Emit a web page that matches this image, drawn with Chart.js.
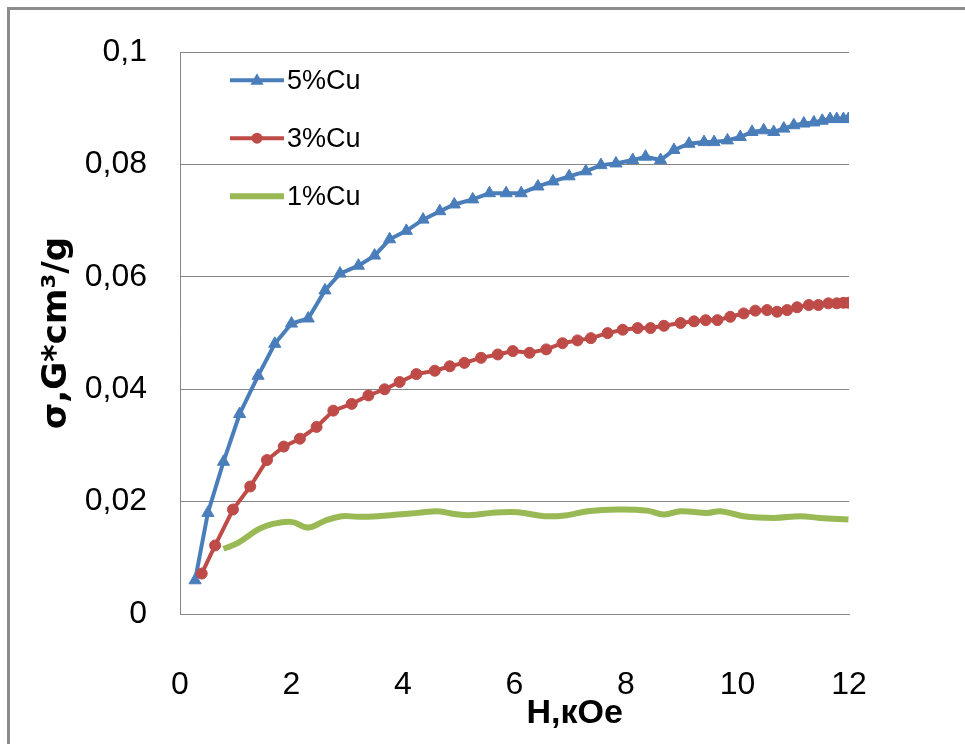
<!DOCTYPE html>
<html>
<head>
<meta charset="utf-8">
<script src="https://cdn.jsdelivr.net/npm/chart.js@4"></script>
<style>
  body { margin: 0; background: #fff; }
  #wrap { position: relative; width: 965px; height: 744px; overflow: hidden; }
  #frame { position: absolute; left: 7px; top: 7px; width: 1000px; height: 800px;
           border-top: 3px solid #8c8c8c; border-left: 3px solid #8c8c8c; }
  #chartCanvas { position: absolute; left: 0; top: 0; }
</style>
</head>
<body>
<div id="wrap">
  <div id="frame"></div>
  <canvas id="chartCanvas" width="965" height="744"></canvas>
</div>
<script>
var ctx = document.getElementById("chartCanvas").getContext("2d");

// 5%Cu
var h5 = [0.27,0.5,0.78,1.07,1.4,1.7,2.0,2.3,2.6,2.87,3.2,3.49,3.76,4.06,4.36,4.66,4.92,5.25,5.55,5.85,6.12,6.42,6.69,6.98,7.28,7.55,7.82,8.12,8.35,8.62,8.86,9.13,9.4,9.58,9.82,10.05,10.26,10.47,10.65,10.83,11.01,11.19,11.37,11.52,11.66,11.78,11.9,11.99];
var s5 = [0.0060,0.0180,0.0271,0.0356,0.0424,0.0481,0.0517,0.0526,0.0576,0.0606,0.0620,0.0638,0.0667,0.0682,0.0702,0.0717,0.0729,0.0738,0.0749,0.0749,0.0749,0.0761,0.0770,0.0779,0.0788,0.0799,0.0802,0.0808,0.0814,0.0808,0.0826,0.0837,0.0840,0.0840,0.0843,0.0849,0.0858,0.0861,0.0858,0.0864,0.0870,0.0873,0.0875,0.0878,0.0881,0.0881,0.0881,0.0881];

// 3%Cu
var h3 = [0.39,0.63,0.95,1.26,1.56,1.86,2.15,2.45,2.75,3.08,3.38,3.67,3.94,4.24,4.57,4.84,5.10,5.40,5.70,5.97,6.27,6.57,6.86,7.13,7.37,7.67,7.94,8.21,8.44,8.68,8.98,9.22,9.43,9.64,9.87,10.11,10.32,10.53,10.71,10.89,11.07,11.28,11.45,11.63,11.78,11.9,11.99];
var s3 = [0.0072,0.0122,0.0186,0.0227,0.0274,0.0298,0.0312,0.0333,0.0362,0.0374,0.0389,0.0400,0.0413,0.0427,0.0433,0.0441,0.0447,0.0456,0.0462,0.0468,0.0465,0.0471,0.0482,0.0487,0.0491,0.0500,0.0506,0.0509,0.0509,0.0513,0.0518,0.0521,0.0523,0.0523,0.0529,0.0535,0.0540,0.0541,0.0538,0.0541,0.0546,0.0550,0.0550,0.0553,0.0553,0.0554,0.0554];

// 1%Cu
var h1 = [0.78,1.05,1.41,1.65,2.0,2.3,2.6,2.9,3.2,3.55,3.91,4.27,4.63,4.92,5.22,5.58,6.06,6.54,6.95,7.31,7.85,8.38,8.68,8.98,9.46,9.7,10.11,10.65,11.13,11.48,11.99];
var s1 = [0.0116,0.0127,0.0151,0.0160,0.0164,0.0154,0.0166,0.0174,0.0173,0.0174,0.0177,0.0180,0.0183,0.0178,0.0176,0.0180,0.0181,0.0174,0.0176,0.0183,0.0186,0.0184,0.0177,0.0183,0.0180,0.0183,0.0174,0.0171,0.0174,0.0171,0.0168];

var nombres = ["5%Cu", "3%Cu", "1%Cu"];
var colores = ["#4A7EBB", "#BE4B48", "#98B954"];

function pares(xs, ys) {
  return xs.map(function(x, i) { return { x: x, y: ys[i] }; });
}

var fuente = "'Liberation Sans', Arial, sans-serif";

// leyenda dentro del area del grafico + titulo del eje x
var leyenda = {
  id: "leyenda",
  afterDraw: function(chart) {
    var c = chart.ctx;
    var a = chart.chartArea;
    c.save();
    chart.data.datasets.forEach(function(ds, i) {
      var y = a.top + 28 + i * 58;
      var x0 = a.left + 50;
      var x1 = x0 + 54;
      c.strokeStyle = ds.borderColor;
      c.lineWidth = ds.borderWidth;
      c.beginPath();
      c.moveTo(x0, y);
      c.lineTo(x1, y);
      c.stroke();
      c.fillStyle = ds.borderColor;
      var xm = (x0 + x1) / 2;
      if (ds.pointStyle === "triangle") {
        var r = ds.pointRadius;
        c.beginPath();
        c.moveTo(xm, y - r);
        c.lineTo(xm + r * 0.95, y + r * 0.65);
        c.lineTo(xm - r * 0.95, y + r * 0.65);
        c.closePath();
        c.fill();
      } else if (ds.pointRadius > 0) {
        c.beginPath();
        c.arc(xm, y, ds.pointRadius, 0, Math.PI * 2);
        c.fill();
      }
      c.fillStyle = "#000";
      c.font = "27px " + fuente;
      c.textAlign = "left";
      c.textBaseline = "middle";
      c.fillText(ds.label, x1 + 3, y + 1);
    });
    c.font = "bold 34px " + fuente;
    c.textAlign = "center";
    c.textBaseline = "middle";
    c.fillText("H,кOe", a.left + (a.right - a.left) * 0.59, 714);
    c.restore();
  }
};

var chartConfig = {
  type: "line",
  data: {
    datasets: [
      {
        label: nombres[0],
        data: pares(h5, s5),
        borderColor: colores[0],
        backgroundColor: colores[0],
        borderWidth: 4,
        pointStyle: "triangle",
        pointRadius: 7,
        pointBorderWidth: 1,
        order: 2
      },
      {
        label: nombres[1],
        data: pares(h3, s3),
        borderColor: colores[1],
        backgroundColor: colores[1],
        borderWidth: 4,
        pointStyle: "circle",
        pointRadius: 5.5,
        pointBorderWidth: 1,
        order: 1
      },
      {
        label: nombres[2],
        data: pares(h1, s1),
        borderColor: colores[2],
        backgroundColor: colores[2],
        borderWidth: 6,
        pointRadius: 0,
        tension: 0.4,
        order: 0
      }
    ]
  },
  options: {
    responsive: false,
    animation: false,
    devicePixelRatio: 1,
    layout: {
      padding: { left: 0, top: 46, right: 116, bottom: 0 }
    },
    scales: {
      x: {
        type: "linear",
        min: 0,
        max: 12,
        afterFit: function(scale) { scale.height = 130; },
        ticks: {
          stepSize: 2,
          padding: 52,
          color: "#000",
          font: { family: fuente, size: 32 }
        },
        grid: { display: false, drawTicks: false },
        border: { display: true, color: "#868686", width: 1 }
      },
      y: {
        min: 0,
        max: 0.1,
        afterFit: function(scale) { scale.width = 180; },
        ticks: {
          stepSize: 0.02,
          padding: 33,
          color: "#000",
          font: { family: fuente, size: 32 },
          callback: function(v) {
            if (v === 0) return "0";
            return String(+v.toFixed(2)).replace(".", ",");
          }
        },
        grid: { color: "#868686", lineWidth: 1, drawTicks: false },
        border: { display: true, color: "#868686", width: 1 },
        title: {
          display: true,
          text: "σ,G*cm³/g",
          color: "#000",
          font: { family: "'DejaVu Sans', sans-serif", size: 34, weight: "bold" },
          padding: { top: 37, bottom: 0 }
        }
      }
    },
    plugins: {
      legend: { display: false },
      tooltip: { enabled: false }
    }
  },
  plugins: [leyenda]
};

var myChart = new Chart(ctx, chartConfig);
</script>
</body>
</html>
